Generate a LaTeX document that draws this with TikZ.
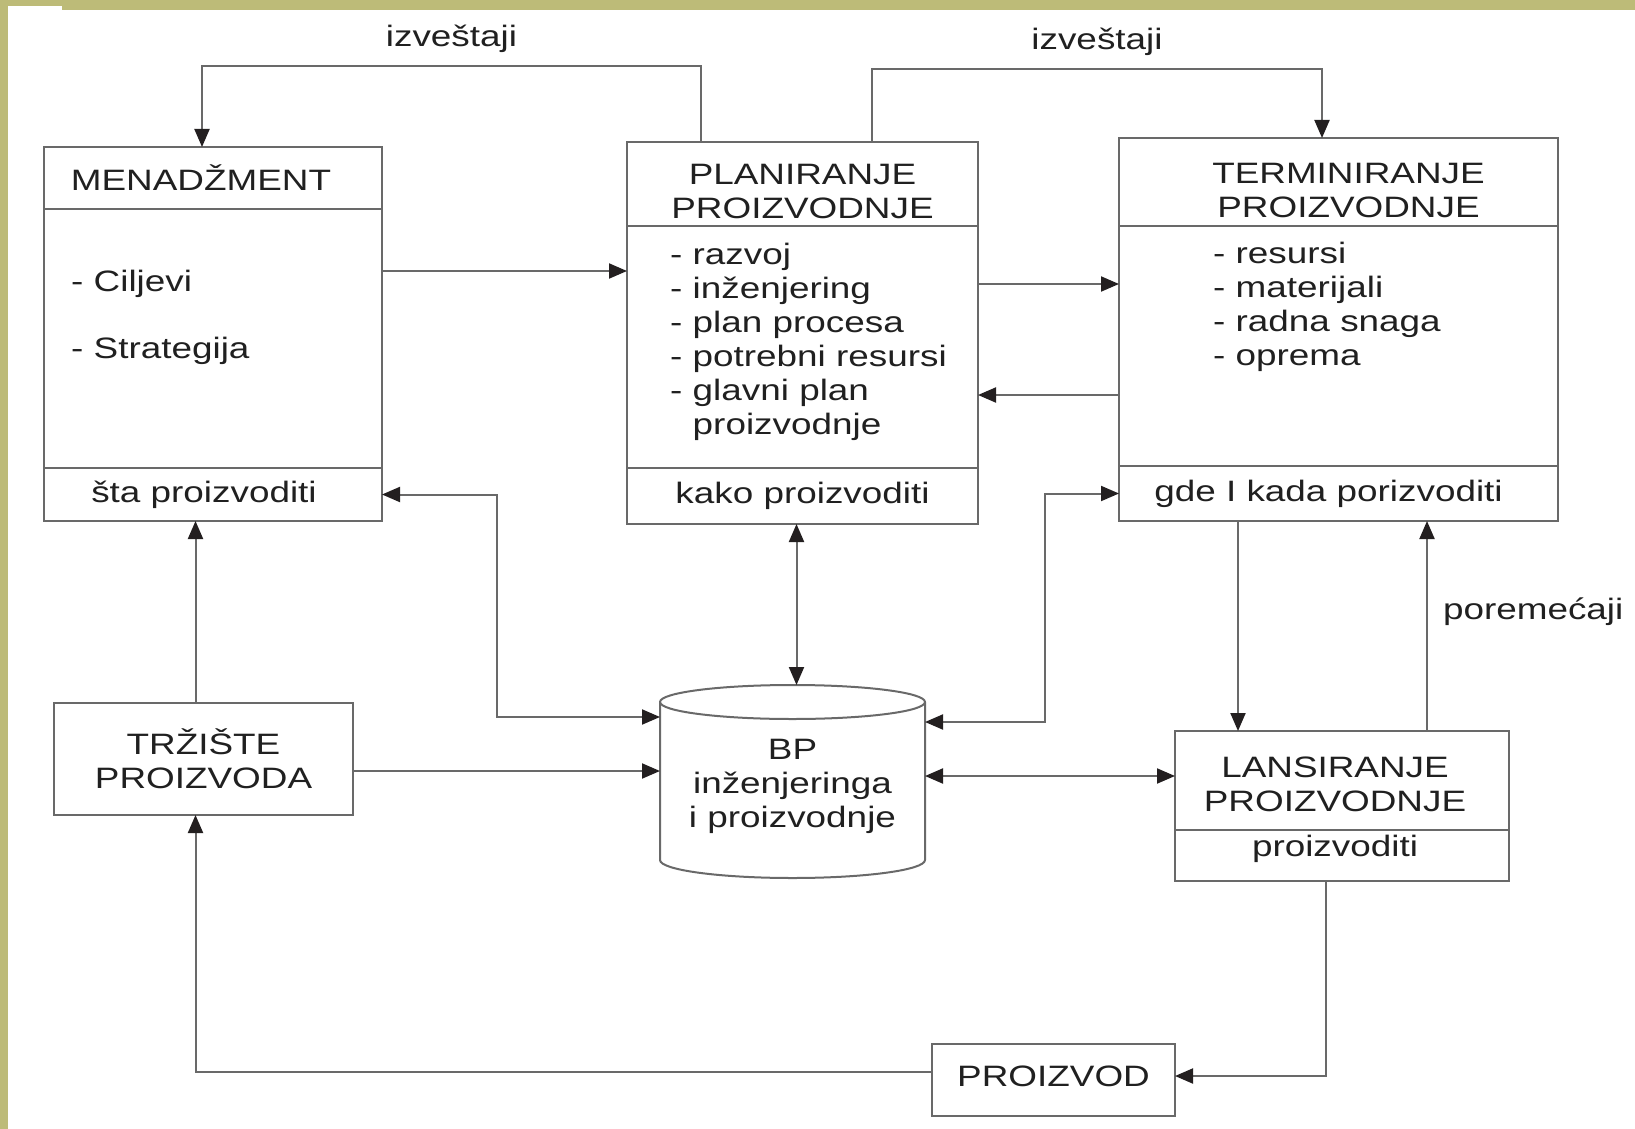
\documentclass[tikz,border=0pt]{standalone}
\usepackage{fontspec}
\setmainfont{Liberation Sans}[FakeStretch=1.25]
\usetikzlibrary{positioning, arrows.meta}

\definecolor{framecol}{RGB}{189,187,120}
\definecolor{linecol}{RGB}{105,105,105}
\definecolor{tipcol}{RGB}{35,31,32}
\definecolor{txtcol}{RGB}{32,32,32}
\newcommand{\diagfont}{\fontsize{29.5pt}{34pt}\selectfont}

\begin{document}
\begin{tikzpicture}[
    x=1pt, y=-1pt,
    part/.style={draw=linecol, line width=2pt, rectangle, outer sep=0pt, inner sep=0pt, font=\diagfont, text=txtcol, align=center},
    block/.style={part, anchor=north west},
    items/.style={anchor=north west, inner sep=0pt, font=\diagfont, text=txtcol, align=left},
    tag/.style={inner sep=3pt, font=\diagfont, text=txtcol},
    link/.style={draw=linecol, line width=2pt},
    >={Triangle[length=18pt, width=15pt, color=tipcol]}
]
% slide frame
\fill[framecol] (0,0) rectangle (1635,10);
\fill[framecol] (0,0) rectangle (8,1129);
\fill[white] (8,6) rectangle (62,10);
\useasboundingbox (0,0) rectangle (1635,1129);

% management
\node (mgmt) [block, minimum width=338pt, minimum height=62pt] at (44,147) {MENADŽMENT\hspace*{24pt}};
\node (mgmtbody) [part, minimum width=338pt, minimum height=259pt, below=0pt of mgmt] {};
\node (mgmtfoot) [part, minimum width=338pt, minimum height=53pt, below=0pt of mgmtbody] {šta proizvoditi\hspace*{18pt}};
\node (mgmtlist) [items] at ([xshift=27pt, yshift=-61pt]mgmtbody.north west) {- Ciljevi\\[33pt]- Strategija};

% planning
\node (plan) [block, minimum width=351pt, minimum height=84pt] at (627,142) {\rule{0pt}{35pt}PLANIRANJE\\PROIZVODNJE};
\node (planbody) [part, minimum width=351pt, minimum height=242pt, below=0pt of plan] {};
\node (planfoot) [part, minimum width=351pt, minimum height=56pt, below=0pt of planbody] {kako proizvoditi};
\node (planlist) [items] at ([xshift=43pt, yshift=-17pt]planbody.north west) {- razvoj\\- inženjering\\- plan procesa\\- potrebni resursi\\- glavni plan\\\hphantom{- }proizvodnje};

% scheduling
\node (term) [block, minimum width=439pt, minimum height=88pt] at (1119,138) {\hspace*{20pt}\rule{0pt}{38pt}TERMINIRANJE\\\hspace*{20pt}PROIZVODNJE};
\node (termbody) [part, minimum width=439pt, minimum height=240pt, below=0pt of term] {};
\node (termfoot) [part, minimum width=439pt, minimum height=55pt, below=0pt of termbody] {gde I kada porizvoditi\hspace*{20pt}};
\node (termlist) [items] at ([xshift=94pt, yshift=-15.5pt]termbody.north west) {- resursi\\- materijali\\- radna snaga\\- oprema};

% market, database, launch, product
\node (market) [block, minimum width=299pt, minimum height=112pt] at (54,703) {TRŽIŠTE\\PROIZVODA};
\node (bp) [anchor=north west, minimum width=265pt, minimum height=193pt, inner sep=0pt, outer sep=0pt, align=center, font=\diagfont, text=txtcol] at (660,685) {\rule{0pt}{30pt}BP\\inženjeringa\\i proizvodnje};
\draw[link] ([yshift=-17pt]bp.north west) -- ([yshift=18pt]bp.south west)
    arc[start angle=180, end angle=360, x radius=132.5pt, y radius=18pt]
    -- ([yshift=-17pt]bp.north east)
    arc[start angle=0, end angle=180, x radius=132.5pt, y radius=17pt] -- cycle;
\draw[link] ([yshift=-17pt]bp.north west) arc[start angle=180, end angle=360, x radius=132.5pt, y radius=17pt];
\node (launch) [block, minimum width=334pt, minimum height=99pt] at (1175,731) {\rule{0pt}{28pt}LANSIRANJE\hspace*{14pt}\\PROIZVODNJE\hspace*{14pt}};
\node (launchfoot) [part, minimum width=334pt, minimum height=51pt, below=0pt of launch] {\rule[-19pt]{0pt}{0pt}proizvoditi\hspace*{14pt}};
\node (product) [block, minimum width=243pt, minimum height=72pt] at (932,1044) {\rule[-8pt]{0pt}{0pt}PROIZVOD};

% reports
\draw[link, ->] ([xshift=74pt]plan.north west) -- ++(0,-76) -| ([xshift=158pt]mgmt.north west)
    node[tag, pos=0.25, above=9pt] {izveštaji};
\draw[link, ->] ([xshift=245pt]plan.north west) -- ++(0,-73) -| ([xshift=203pt]term.north west)
    node[tag, pos=0.25, above=9pt] {izveštaji};

% top row flows
\coordinate (goals) at ([yshift=-62pt]mgmtbody.north east);
\draw[link, ->] (goals) -- (goals -| planbody.west);
\coordinate (planout) at ([yshift=-58pt]planbody.north east);
\draw[link, ->] (planout) -- (planout -| termbody.west);
\coordinate (termback) at ([yshift=-169pt]termbody.north west);
\draw[link, ->] (termback) -- (termback -| planbody.east);

% database links
\draw[link, <->] (mgmtfoot.east) -- ++(115,0) |- ([yshift=-32pt]bp.north west);
\coordinate (plandb) at ([xshift=-6pt]planfoot.south);
\draw[link, <->] (plandb) -- (plandb |- bp.north);
\draw[link, <->] (termfoot.west) -- ++(-74,0) |- ([yshift=-37pt]bp.north east);
\coordinate (marketdb) at ([yshift=-12pt]market.east);
\draw[link, ->] (marketdb) -- (marketdb -| bp.west);
\coordinate (dblaunch) at ([yshift=-91pt]bp.north east);
\draw[link, <->] (dblaunch) -- (dblaunch -| launch.west);

% market and shop floor loop
\coordinate (marketup) at ([xshift=-8pt]market.north);
\draw[link, ->] (marketup) -- (marketup |- mgmtfoot.south);
\coordinate (termdown) at ([xshift=119pt]termfoot.south west);
\draw[link, ->] (termdown) -- (termdown |- launch.north);
\coordinate (faults) at ([xshift=252pt]launch.north west);
\draw[link, ->] (faults) -- (faults |- termfoot.south)
    node[tag, pos=0.57, right=12pt] {poremećaji};
\draw[link, ->] ([xshift=151pt]launchfoot.south west) |- ([yshift=4pt]product.east);
\draw[link, ->] ([yshift=8pt]product.west) -| ([xshift=-8pt]market.south);
\end{tikzpicture}
\end{document}
